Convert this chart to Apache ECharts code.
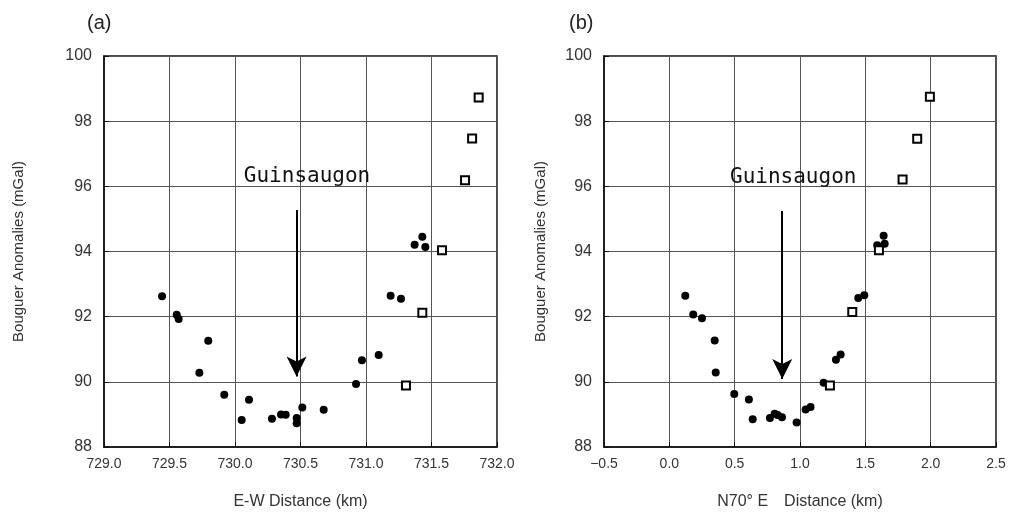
<!DOCTYPE html>
<html>
<head>
<meta charset="utf-8">
<script src="https://cdn.jsdelivr.net/npm/echarts@6/dist/echarts.min.js"></script>
<style>
  html, body { margin: 0; padding: 0; background: #fff; }
  #main { width: 1010px; height: 515px; }
</style>
</head>
<body>
<div id="main"></div>
<script>
// (a) E-W profile - filled dots
var ewDist = [729.443, 729.555, 729.570, 729.796, 729.728, 729.918, 730.107, 730.051, 730.282, 730.351, 730.387, 730.471, 730.471, 730.514, 730.677, 730.924, 730.969, 731.097, 731.188, 731.267, 731.371, 731.430, 731.453];
var ewGrav = [92.63, 92.06, 91.93, 91.26, 90.28, 89.60, 89.45, 88.83, 88.87, 89.00, 88.99, 88.89, 88.73, 89.21, 89.14, 89.93, 90.66, 90.82, 92.64, 92.55, 94.21, 94.45, 94.14];
// (a) open squares
var ewDistSq = [731.86, 731.81, 731.756, 731.58, 731.43, 731.305];
var ewGravSq = [98.73, 97.47, 96.19, 94.04, 92.12, 89.89];

// (b) N70E profile - filled dots
var n70Dist = [0.122, 0.183, 0.250, 0.347, 0.355, 0.497, 0.609, 0.638, 0.770, 0.806, 0.829, 0.862, 0.974, 1.043, 1.081, 1.181, 1.275, 1.311, 1.446, 1.492, 1.591, 1.640, 1.648];
var n70Grav = [92.64, 92.07, 91.95, 91.27, 90.29, 89.63, 89.46, 88.85, 88.89, 89.02, 88.98, 88.91, 88.75, 89.15, 89.23, 89.97, 90.68, 90.84, 92.57, 92.66, 94.19, 94.48, 94.24];
// (b) open squares
var n70DistSq = [1.994, 1.897, 1.785, 1.604, 1.400, 1.229];
var n70GravSq = [98.75, 97.46, 96.21, 94.04, 92.14, 89.89];

// arrow (x, yTop, yTip) and label position
var arrowA = [730.47, 95.27, 90.16];
var arrowB = [0.864, 95.24, 90.09];
var labelA = [730.55, 96.3];
var labelB = [0.948, 96.27];
var siteName = 'Guinsaugon';

var chart = echarts.init(document.getElementById('main'), null, {renderer: 'canvas'});

function pairs(xs, ys) {
  var out = [];
  for (var i = 0; i < xs.length; i++) out.push([xs[i], ys[i]]);
  return out;
}

function xAx(idx, min, max, name) {
  return {
    gridIndex: idx, type: 'value', min: min, max: max, interval: 0.5,
    name: name, nameLocation: 'middle', nameGap: 47,
    nameTextStyle: {fontFamily: 'Liberation Sans', fontSize: 16, color: '#333'},
    axisLine: {show: true, onZero: false, lineStyle: {color: '#111', width: 1.5}},
    axisTick: {show: true, inside: true, length: 5, lineStyle: {color: '#111'}},
    axisLabel: {fontFamily: 'Liberation Sans', fontSize: 14, color: '#333', margin: 10,
      formatter: function (v) { return v.toFixed(1).replace('-', '\u2212'); }},
    splitLine: {show: true, lineStyle: {color: '#555', width: 1}}
  };
}

function yAx(idx, gap) {
  return {
    gridIndex: idx, type: 'value', min: 88, max: 100, interval: 2,
    name: 'Bouguer Anomalies (mGal)', nameLocation: 'middle', nameGap: gap, nameRotate: 90,
    nameTextStyle: {fontFamily: 'Liberation Sans', fontSize: 15, color: '#333'},
    axisLine: {show: true, onZero: false, lineStyle: {color: '#111', width: 1.5}},
    axisTick: {show: true, inside: true, length: 5, lineStyle: {color: '#111'}},
    axisLabel: {fontFamily: 'Liberation Sans', fontSize: 16, color: '#333', margin: 12},
    splitLine: {show: true, lineStyle: {color: '#555', width: 1}}
  };
}

function dots(idx, xs, ys) {
  return {
    type: 'scatter', xAxisIndex: idx, yAxisIndex: idx,
    data: pairs(xs, ys), symbol: 'circle', symbolSize: 8,
    itemStyle: {color: '#000', opacity: 1}, silent: true
  };
}

function squares(idx, xs, ys) {
  return {
    type: 'scatter', xAxisIndex: idx, yAxisIndex: idx,
    data: pairs(xs, ys), symbol: 'rect', symbolSize: 8,
    itemStyle: {color: '#fff', borderColor: '#000', borderWidth: 2, opacity: 1}, silent: true
  };
}

function marker(idx, arrow, label) {
  return {
    type: 'scatter', xAxisIndex: idx, yAxisIndex: idx,
    data: [label], symbolSize: 1, silent: true,
    itemStyle: {color: 'rgba(0,0,0,0)', opacity: 1},
    label: {show: true, position: 'inside', formatter: siteName,
      fontFamily: 'DejaVu Sans Mono', fontSize: 21, color: '#111'},
    markLine: {
      silent: true, symbol: ['none', 'arrow'], symbolSize: [15, 20],
      label: {show: false},
      lineStyle: {color: '#000', width: 2, type: 'solid', opacity: 1},
      data: [[{coord: [arrow[0], arrow[1]]}, {coord: [arrow[0], arrow[2]]}]]
    }
  };
}

var option = {
  backgroundColor: '#fff',
  animation: false,
  title: [
    {text: '(a)', left: 82, top: 8, textStyle: {fontFamily: 'Liberation Sans', fontSize: 20, fontWeight: 'normal', color: '#222'}},
    {text: '(b)', left: 564, top: 8, textStyle: {fontFamily: 'Liberation Sans', fontSize: 20, fontWeight: 'normal', color: '#222'}}
  ],
  grid: [
    {left: 104, top: 56, width: 393, height: 393, show: true, borderColor: '#111', borderWidth: 1.5},
    {left: 604, top: 56, width: 392, height: 392, show: true, borderColor: '#111', borderWidth: 1.5}
  ],
  xAxis: [
    xAx(0, 729, 732, 'E-W Distance (km)'),
    xAx(1, -0.5, 2.5, 'N70\u00b0 E\u3000Distance (km)')
  ],
  yAxis: [yAx(0, 78), yAx(1, 56)],
  series: [
    dots(0, ewDist, ewGrav),
    squares(0, ewDistSq, ewGravSq),
    marker(0, arrowA, labelA),
    dots(1, n70Dist, n70Grav),
    squares(1, n70DistSq, n70GravSq),
    marker(1, arrowB, labelB)
  ]
};

chart.setOption(option);
</script>
</body>
</html>
